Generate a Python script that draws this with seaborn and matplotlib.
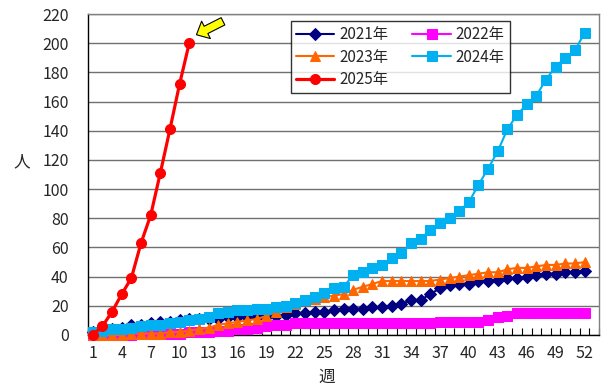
import matplotlib
matplotlib.use("Agg")
import matplotlib.pyplot as plt
import seaborn as sns
import pandas as pd

sns.set_theme(style="white")
plt.rcParams["font.family"] = ["Noto Sans CJK JP", "DejaVu Sans"]

# Cumulative weekly counts per year
weeks_full = list(range(1, 53))
weeks_2025 = list(range(1, 12))

y2021 = [2, 3, 4, 5, 7, 7, 8, 9, 9, 10, 11, 11, 11, 11, 12, 12, 12, 12, 12, 13,
         14, 15, 15, 16, 16, 17, 18, 18, 18, 19, 19, 20, 21, 24, 24, 28, 32, 34, 35, 35,
         37, 37, 38, 39, 39, 40, 41, 42, 42, 43, 43, 44]
y2022 = [0, 0, 0, 0, 0, 1, 1, 1, 1, 1, 2, 2, 2, 3, 3, 4, 4, 5, 6, 7,
         7, 8, 8, 8, 8, 8, 8, 8, 8, 8, 8, 8, 8, 8, 8, 8, 9, 9, 9, 9,
         9, 10, 12, 13, 15, 15, 15, 15, 15, 15, 15, 15]
y2023 = [0, 0, 0, 0, 1, 1, 1, 1, 2, 2, 3, 4, 5, 7, 8, 9, 10, 11, 13, 16,
         19, 21, 24, 25, 26, 27, 28, 31, 33, 35, 37, 37, 37, 37, 37, 37, 38, 39, 40, 41,
         42, 43, 43, 45, 46, 46, 47, 48, 48, 49, 49, 50]
y2024 = [2, 3, 4, 4, 5, 6, 7, 7, 8, 9, 10, 11, 12, 15, 16, 17, 17, 18, 18, 19,
         20, 22, 24, 26, 29, 32, 33, 41, 43, 46, 48, 53, 56, 63, 66, 72, 77, 80, 85, 91,
         103, 114, 126, 141, 151, 158, 164, 175, 184, 190, 195, 207]
y2025 = [0, 6, 16, 28, 39, 63, 82, 111, 141, 172, 200]

x_tick_labels = [str(w) for w in range(1, 53, 3)]
y_ticks = list(range(0, 221, 20))

fig = plt.figure(figsize=(6.01, 3.85), dpi=100)
ax = fig.add_axes([0.1464, 0.1299, 0.8503, 0.8337])

series = [
    ("2021年", weeks_full, y2021, "#000080", "D", 6.0, 1.5),
    ("2022年", weeks_full, y2022, "#FF00FF", "s", 6.8, 1.5),
    ("2023年", weeks_full, y2023, "#FF6600", "^", 7.5, 1.5),
    ("2024年", weeks_full, y2024, "#00B0F0", "s", 6.8, 1.5),
    ("2025年", weeks_2025, y2025, "#FF0000", "o", 7.2, 2.3),
]

for name, xs, ys, col, mk, ms, lw in series:
    df = pd.DataFrame({"週": xs, "人": ys})
    sns.lineplot(data=df, x="週", y="人", ax=ax, color=col, marker=mk,
                 markersize=ms, markeredgecolor=col, linewidth=lw,
                 clip_on=False, label=name, zorder=3)
h, l = ax.get_legend_handles_labels()
handles = dict(zip(l, h))

ax.set_xlim(0.5, 53.5)
ax.set_ylim(0, 220)
ax.set_yticks(y_ticks)
ax.set_yticklabels([str(v) for v in y_ticks], fontsize=11.5)
ax.set_xticks(list(range(1, 53, 3)))
ax.set_xticklabels(x_tick_labels, fontsize=11.5)
ax.tick_params(axis="x", which="major", length=0, pad=7)
ax.tick_params(axis="y", which="major", length=0, pad=14)
# category boundary ticks along the bottom axis
ax.set_xticks([w + 0.5 for w in range(0, 54)], minor=True)
ax.tick_params(axis="x", which="minor", direction="in", length=5,
               width=0.8, color="black", bottom=True)

ax.grid(axis="y", color="#707070", linewidth=1.0)
ax.grid(axis="x", visible=False)
ax.set_axisbelow(True)
for side in ["top", "right"]:
    ax.spines[side].set_color("#808080")
    ax.spines[side].set_linewidth(1.0)
for side in ["left", "bottom"]:
    ax.spines[side].set_color("black")
    ax.spines[side].set_linewidth(1.0)

ax.set_xlabel("")
ax.set_ylabel("")
fig.text(22 / 601, 1 - 162 / 385, "人", fontsize=12, ha="center", va="center")
fig.text(327 / 601, 1 - 377 / 385, "週", fontsize=12, ha="center", va="center")

order = ["2021年", "2023年", "2025年", "2022年", "2024年"]
leg = ax.legend([handles[k] for k in order], order, ncol=2,
                loc="upper left", bbox_to_anchor=(0.397, 0.978),
                fontsize=11, frameon=True, fancybox=False, shadow=False,
                handlelength=2.5, handletextpad=0.3, columnspacing=1.6,
                labelspacing=0.35, borderpad=0.35, borderaxespad=0)
leg.get_frame().set_edgecolor("black")
leg.get_frame().set_linewidth(1.0)
leg.set_zorder(5)

ax.annotate("", xy=(11.75, 205.8), xytext=(14.5, 215.0),
            arrowprops=dict(arrowstyle="simple,head_length=0.55,head_width=1.0,tail_width=0.42",
                            fc="#FFFF00", ec="black", lw=0.8, mutation_scale=14,
                            shrinkA=0, shrinkB=0),
            annotation_clip=False, zorder=6)

fig.savefig("out.png", dpi=100)
